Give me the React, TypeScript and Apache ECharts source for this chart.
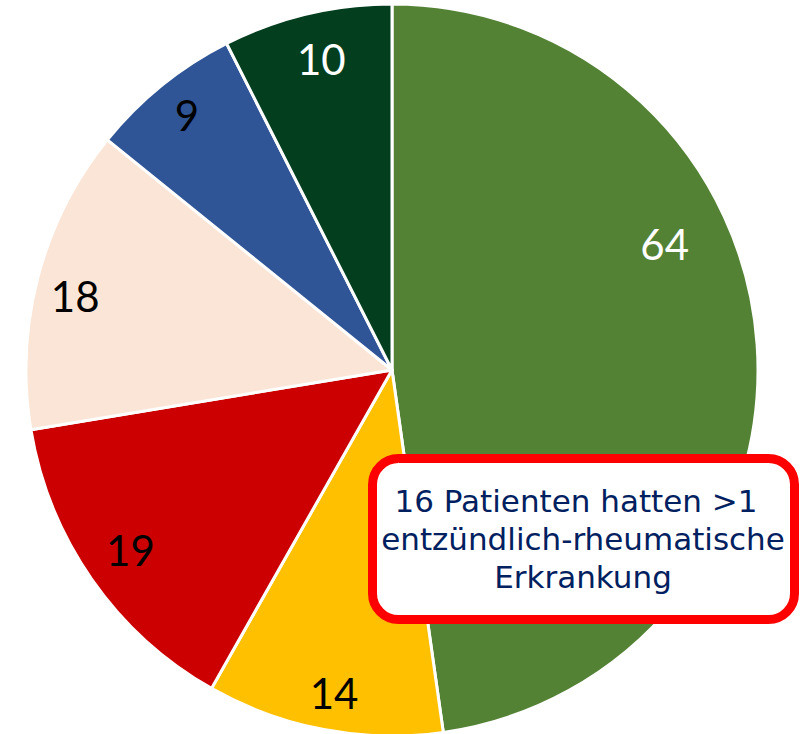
import React, { useEffect, useRef } from "react";
import * as echarts from "echarts";

const categories = ["A", "B", "C", "D", "E", "F"];
const values = [64, 14, 19, 18, 9, 10];
const colors = ["#548235", "#FFC000", "#CC0000", "#FBE5D6", "#2F5597", "#033F1E"];
const labelColors = ["#FFFFFF", "#000000", "#000000", "#000000", "#000000", "#FFFFFF"];
const labelShifts = [[-48, -103], [2, 7], [2, -4], [-6, 8], [-3, -5], [4, 2]];
const calloutLines = ["16 Patienten hatten >1", "entzündlich-rheumatische", "Erkrankung"];
const calloutLineX = [576, 583, 583];

export default function App() {
  const ref = useRef<HTMLDivElement>(null);
  useEffect(() => {
    if (!ref.current) return;
    const chart = echarts.init(ref.current, null, { renderer: "svg" });
    const R = 366;
    const data = categories.map((c, i) => ({
      name: c,
      value: values[i],
      itemStyle: { color: colors[i] },
      label: { color: labelColors[i] },
    }));
    chart.setOption({
      animation: false,
      series: [
        {
          type: "pie",
          center: [392, 370],
          radius: [0, R],
          startAngle: 90,
          clockwise: true,
          silent: true,
          data,
          label: { show: false },
          labelLine: { show: false },
          itemStyle: { borderColor: "#FFFFFF", borderWidth: 3 },
          emphasis: { disabled: true },
        },
        {
          type: "pie",
          center: [392, 370],
          radius: [R * 0.8, R * 0.94],
          startAngle: 90,
          clockwise: true,
          silent: true,
          data: data.map((d) => ({ ...d, itemStyle: { color: "transparent" } })),
          label: {
            show: true,
            position: "inside",
            formatter: "{c}",
            fontFamily: "Lato",
            fontSize: 42,
          },
          labelLine: { show: false },
          labelLayout: (p: any) => ({ dx: labelShifts[p.dataIndex][0], dy: labelShifts[p.dataIndex][1] }),
          emphasis: { disabled: true },
        },
      ],
      graphic: [
        {
          type: "rect",
          shape: { x: 372.5, y: 458.5, width: 422, height: 161, r: 26 },
          style: { fill: "#FFFFFF", stroke: "#FF0000", lineWidth: 9 },
          z: 10,
        },
        ...calloutLines.map((t, i) => ({
          type: "text",
          x: calloutLineX[i],
          y: 501 + i * 38,
          z: 11,
          style: {
            text: t,
            fill: "#002060",
            fontFamily: "DejaVu Sans",
            fontSize: 31,
            align: "center",
            verticalAlign: "middle",
          },
        })),
      ],
    });
    return () => chart.dispose();
  }, []);
  return (
    <div
      ref={ref}
      style={{ position: "fixed", left: 0, top: 0, width: 806, height: 734, background: "#FFFFFF" }}
    />
  );
}
